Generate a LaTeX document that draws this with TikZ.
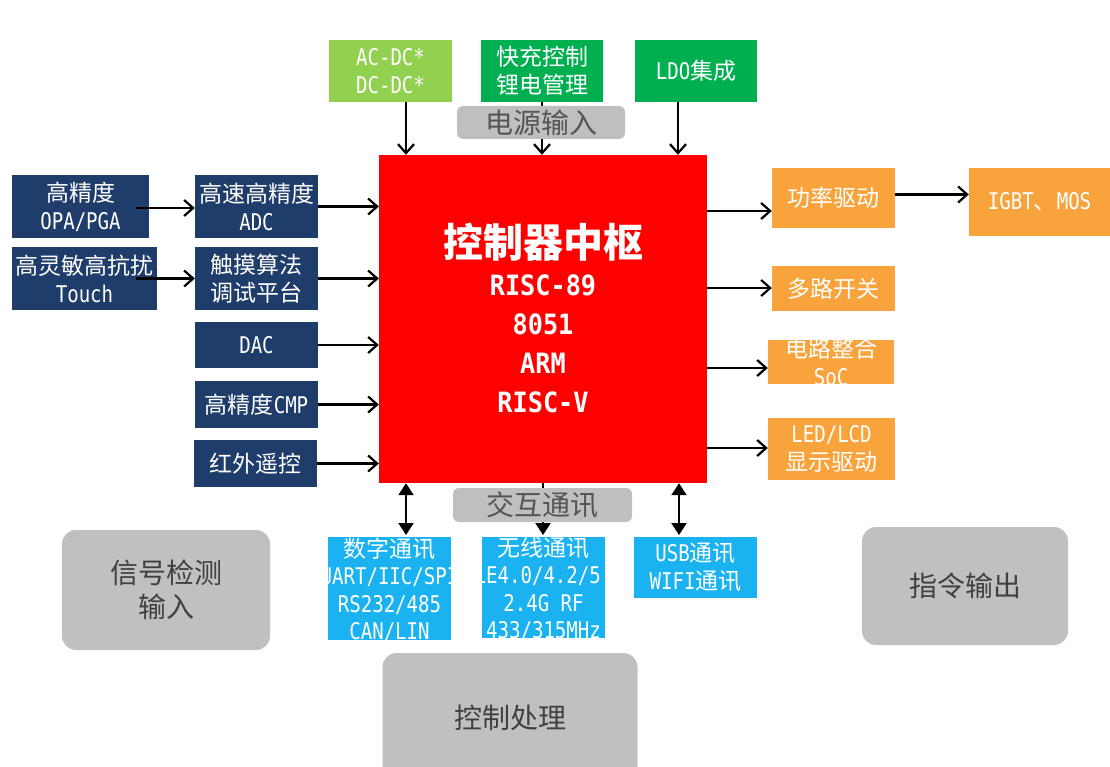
\documentclass[tikz,border=0pt]{standalone}
\usepackage{fontspec}
\setmainfont{Noto Sans CJK SC}
\newfontfamily\mono{DejaVu Sans Mono}[FakeStretch=0.83]
\newfontfamily\monoU{DejaVu Sans Mono}[FakeStretch=0.9]
\newcommand\lt[1]{{\mono #1}}
\usetikzlibrary{arrows.meta}
\definecolor{lgreen}{HTML}{92D050}
\definecolor{dgreen}{HTML}{00B050}
\definecolor{navy}{HTML}{1F3D6A}
\definecolor{cpured}{HTML}{FF0000}
\definecolor{orng}{HTML}{F9A33D}
\definecolor{cyanb}{HTML}{1AB2F0}
\definecolor{catgray}{HTML}{C0C0C0}
\definecolor{cattext}{HTML}{404040}
\definecolor{lblgray}{HTML}{BFBFBF}
\definecolor{lbltext}{HTML}{555555}
\tikzset{
  box/.style={inner sep=0pt, align=center, text=white, font=\fontsize{23}{28}\selectfont},
  navybox/.style={box, fill=navy},
  greenbox/.style={box, fill=dgreen},
  lgreenbox/.style={box, fill=lgreen},
  orangebox/.style={box, fill=orng},
  cyanbox/.style={box, fill=cyanb},
  catbox/.style={fill=catgray, rounded corners=14pt, text=cattext, align=center, inner sep=0pt, font=\fontsize{28}{34}\selectfont},
  lbl/.style={fill=lblgray, rounded corners=6pt, text=lbltext, inner sep=0pt, font=\fontsize{28}{30}\selectfont},
  arr/.style={-{Straight Barb[length=9pt,width=16pt]}, line width=2.2pt},
  tri/.style={-{Triangle[length=12pt,width=15pt]}, line width=2.2pt},
  dbl/.style={{Triangle[length=12pt,width=15pt]}-{Triangle[length=12pt,width=15pt]}, line width=2.2pt},
}
\begin{document}
\begin{tikzpicture}[x=1pt,y=-1pt]
\useasboundingbox (0,0) rectangle (1110,767);
% category boxes
\node[catbox, minimum width=208, minimum height=120] (sig) at (166,590) {信号检测\\输入};
\node[catbox, minimum width=255, minimum height=130] (proc) at (510,718) {控制处理};
\node[catbox, minimum width=206, minimum height=118] (cmd) at (965,586) {指令输出};
% center
\node[fill=cpured, minimum width=328, minimum height=328, inner sep=0pt] (cpu) at (543,319) {};
\node[text=white, font=\bfseries\fontsize{40}{40}\selectfont, inner sep=0pt] (cputitle) at (543,242) {控制器中枢};
\node[text=white, font=\fontsize{28}{39}\selectfont\monoU\bfseries, align=center, inner sep=0pt] (cpulist) at (543,344) {RISC-89\\8051\\ARM\\RISC-V};
% top
\node[lgreenbox, minimum width=123, minimum height=62] (ac) at (390.5,71) {\lt{AC-DC*}\\\lt{DC-DC*}};
\node[greenbox, minimum width=122, minimum height=62] (qc) at (542,71) {快充控制\\锂电管理};
\node[greenbox, minimum width=122, minimum height=62] (ldo) at (696,71) {\lt{LDO}集成};
\draw[arr] ([xshift=15.5pt]ac.south) -- ([xshift=15.5pt]ac.south |- cpu.north);
\draw[arr] (qc.south) -- (qc.south |- cpu.north);
\draw[arr] ([xshift=-18pt]ldo.south) -- ([xshift=-18pt]ldo.south |- cpu.north);
\node[lbl, minimum width=168, minimum height=33] (power) at (541,122.5) {电源输入};
% left
\node[navybox, minimum width=137, minimum height=63] (opa) at (80.5,206.5) {高精度\\\lt{OPA/PGA}};
\node[navybox, minimum width=145, minimum height=63] (touch) at (84.5,278.5) {高灵敏高抗扰\\\lt{Touch}};
\node[navybox, minimum width=123, minimum height=63] (adc) at (256.5,206.5) {高速高精度\\\lt{ADC}};
\node[navybox, minimum width=123, minimum height=63] (alg) at (256.5,278.5) {触摸算法\\调试平台};
\node[navybox, minimum width=123, minimum height=46] (dac) at (256.5,345) {\lt{DAC}};
\node[navybox, minimum width=123, minimum height=47] (cmp) at (256.5,404.5) {高精度\lt{CMP}};
\node[navybox, minimum width=123, minimum height=47] (ir) at (255.5,463.5) {红外遥控};
\draw[arr] ([xshift=-13pt,yshift=-1.5pt]opa.east) -- ([yshift=-1.5pt]adc.west);
\draw[arr] ([xshift=-21pt]touch.east) -- (alg.west);
\draw[arr] (adc.east) -- (adc.east -| cpu.west);
\draw[arr] (alg.east) -- (alg.east -| cpu.west);
\draw[arr] (dac.east) -- (dac.east -| cpu.west);
\draw[arr] (cmp.east) -- (cmp.east -| cpu.west);
\draw[arr] (ir.east) -- (ir.east -| cpu.west);
% right
\node[orangebox, minimum width=123, minimum height=60] (pwr) at (833.5,198) {功率驱动};
\node[orangebox, minimum width=141, minimum height=68] (igbt) at (1039.5,202) {\lt{IGBT}、\lt{MOS}};
\node[orangebox, minimum width=123, minimum height=45] (sw) at (833.5,288.5) {多路开关};
\node[orangebox, minimum width=126, minimum height=44] (soc) at (831,362) {};
\begin{scope}
\clip (soc.north west) rectangle (soc.south east);
\node[box, anchor=center] (soctext) at (831,362) {电路整合\\\lt{SoC}};
\end{scope}
\node[orangebox, minimum width=127, minimum height=62] (led) at (831.5,449) {\lt{LED/LCD}\\显示驱动};
\coordinate (r1) at (cpu.east |- 0,211);
\coordinate (r2) at (cpu.east |- 0,288);
\coordinate (r3) at (cpu.east |- 0,368);
\coordinate (r4) at (cpu.east |- 0,448);
\draw[arr] (r1) -- (r1 -| pwr.west);
\draw[arr] (r2) -- (r2 -| sw.west);
\draw[arr] (r3) -- (r3 -| soc.west);
\draw[arr] (r4) -- (r4 -| led.west);
\draw[arr] ([yshift=3.5pt]pwr.east) -- ([yshift=3.5pt]pwr.east -| igbt.west);
% bottom
\node[cyanbox, minimum width=123, minimum height=103] (dig) at (389.5,588.5) {};
\node[cyanbox, minimum width=123, minimum height=101] (wl) at (543.5,587.5) {};
\begin{scope}
\clip (dig.north west) rectangle (dig.south east);
\node[box, font=\fontsize{23}{27.5}\selectfont] (digtext) at (389.5,590) {数字通讯\\\lt{UART/IIC/SPI}\\\lt{RS232/485}\\\lt{CAN/LIN}};
\end{scope}
\begin{scope}
\clip (wl.north west) rectangle (wl.south east);
\node[box, font=\fontsize{23}{27.5}\selectfont] (wltext) at (543.5,589) {无线通讯\\\lt{BLE4.0/4.2/5.0}\\\lt{2.4G RF}\\\lt{433/315MHz}};
\end{scope}
\node[cyanbox, minimum width=123, minimum height=61] (usb) at (695.5,567.5) {\lt{USB}通讯\\\lt{WIFI}通讯};
\coordinate (b1) at (406,535);
\coordinate (b2) at (543,535);
\coordinate (b3) at (679,535);
\draw[dbl] (b1 |- cpu.south) -- (b1);
\draw[tri] (b2 |- cpu.south) -- (b2);
\draw[dbl] (b3 |- cpu.south) -- (b3);
\node[lbl, minimum width=179, minimum height=34] (inter) at (542.5,505) {交互通讯};
\end{tikzpicture}
\end{document}
